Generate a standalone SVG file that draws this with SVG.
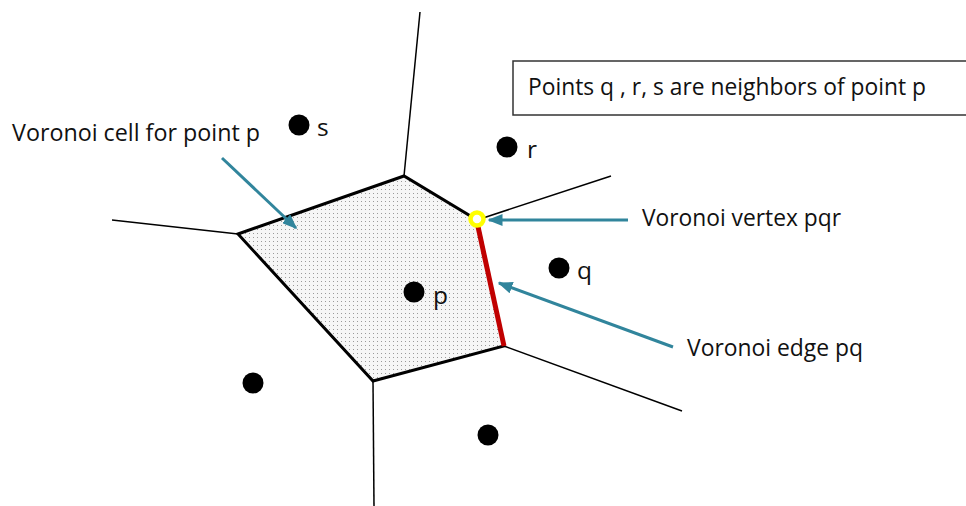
<svg xmlns="http://www.w3.org/2000/svg" width="966" height="506" viewBox="0 0 966 506">
  <style>
    .lbl { font-family: "Open Sans", "Liberation Sans", sans-serif; font-size: 24.5px; fill: #111; }
    .ray { stroke: #000; stroke-width: 1.5; fill: none; }
    .pt { fill: #000; }
    .arr { stroke: #31859C; stroke-width: 3; fill: none; marker-end: url(#ah); }
  </style>
  <defs>
    <pattern id="dots" width="4" height="4" patternUnits="userSpaceOnUse">
      <rect width="4" height="4" fill="#f6f6f6"/>
      <rect x="1" y="1" width="1" height="1" fill="#9a9a9a"/>
    </pattern>
    <marker id="ah" markerWidth="5" markerHeight="4" refX="4.5" refY="2" orient="auto" markerUnits="strokeWidth">
      <path d="M0,0 L5,2 L0,4 Z" fill="#31859C"/>
    </marker>
  </defs>
  <rect width="966" height="506" fill="#fff"/>

  <g id="rays">
    <line class="ray" x1="404" y1="176" x2="420" y2="12"/>
    <line class="ray" x1="238" y1="234" x2="112" y2="220"/>
    <line class="ray" x1="477" y1="220" x2="611" y2="176"/>
    <line class="ray" x1="504" y1="346" x2="682" y2="411"/>
    <line class="ray" x1="373" y1="381" x2="374" y2="506"/>
  </g>

  <g id="cell">
    <polygon points="238,234 404,176 477,220 504,346 373,381" fill="url(#dots)" stroke="#000" stroke-width="3" stroke-linejoin="miter"/>
    <line x1="477" y1="222" x2="504" y2="346" stroke="#C00000" stroke-width="5"/>
  </g>

  <g id="vertex-pqr">
    <circle cx="477" cy="219" r="6.5" fill="#fff" stroke="#FFFF00" stroke-width="4.5"/>
  </g>

  <g id="points">
    <g id="pt-s"><circle class="pt" cx="299" cy="125" r="10.5"/><text class="lbl" x="317" y="136">s</text></g>
    <g id="pt-r"><circle class="pt" cx="507" cy="147" r="10.5"/><text class="lbl" x="527" y="158">r</text></g>
    <g id="pt-q"><circle class="pt" cx="559" cy="268" r="10.5"/><text class="lbl" x="577" y="279">q</text></g>
    <g id="pt-p"><circle class="pt" cx="414" cy="292" r="10.5"/><text class="lbl" x="433" y="304">p</text></g>
    <g id="pt-a"><circle class="pt" cx="253" cy="383" r="10.5"/></g>
    <g id="pt-b"><circle class="pt" cx="488" cy="435" r="10.5"/></g>
  </g>

  <g id="info-box">
    <rect x="513" y="61" width="460" height="54" fill="#fff" stroke="#333" stroke-width="1.5"/>
    <text class="lbl" x="528" y="95" textLength="398" lengthAdjust="spacingAndGlyphs">Points q , r, s are neighbors of point p</text>
  </g>

  <g id="label-cell"><text class="lbl" x="12" y="141" textLength="248" lengthAdjust="spacingAndGlyphs">Voronoi cell for point p</text></g>
  <g id="label-vertex"><text class="lbl" x="642" y="226" textLength="199" lengthAdjust="spacingAndGlyphs">Voronoi vertex pqr</text></g>
  <g id="label-edge"><text class="lbl" x="687" y="356" textLength="176" lengthAdjust="spacingAndGlyphs">Voronoi edge pq</text></g>

  <g id="connectors">
    <line class="arr" x1="222" y1="158" x2="296" y2="228"/>
    <line class="arr" x1="628" y1="220" x2="489" y2="220"/>
    <line class="arr" x1="673" y1="347" x2="499" y2="283"/>
  </g>
</svg>
